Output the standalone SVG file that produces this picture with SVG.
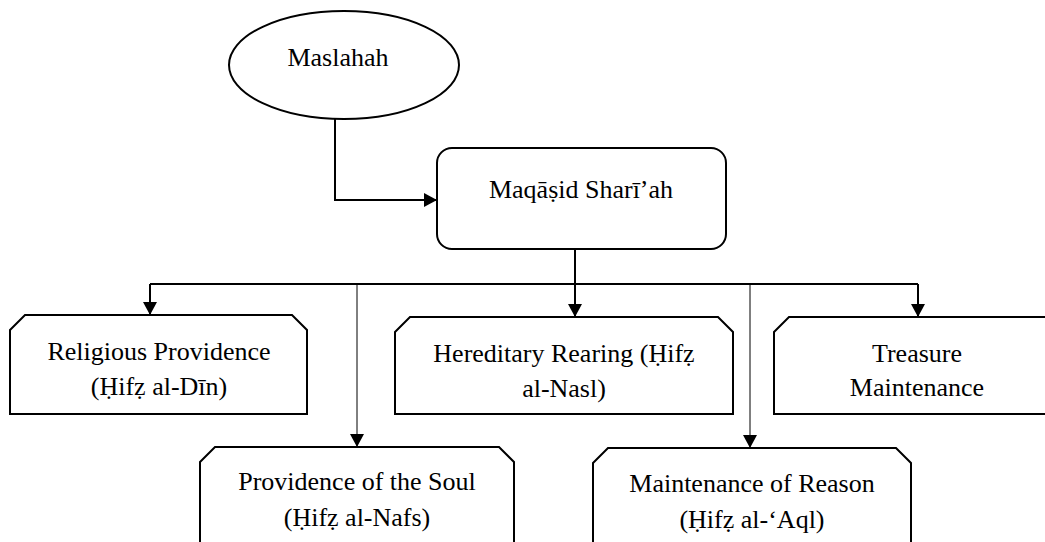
<svg xmlns="http://www.w3.org/2000/svg" width="1045" height="542" viewBox="0 0 1045 542">
<style>
.shape{fill:#fff;stroke:#000;stroke-width:2}
.txt{font-family:"Liberation Serif","Times New Roman",serif;font-size:26px;fill:#000;text-anchor:middle}
.conn{fill:none;stroke:#000;stroke-width:2}
.thin{fill:none;stroke:#000;stroke-width:1}
</style>
<defs>
<marker id="arr" markerUnits="userSpaceOnUse" markerWidth="14" markerHeight="14" viewBox="0 0 14 14" refX="13" refY="7" orient="auto">
<path d="M0,0 L13,7 L0,14 Z" fill="#000"/>
</marker>
</defs>
<rect width="1045" height="542" fill="#fff"/>
<g id="connectors">
<path class="conn" d="M335,119 V200 H437" marker-end="url(#arr)"/>
<path class="conn" d="M575,249 V284"/>
<path class="conn" d="M150,284 H918"/>
<path class="conn" d="M150,284 V315" marker-end="url(#arr)"/>
<path class="conn" d="M575,284 V317" marker-end="url(#arr)"/>
<path class="conn" d="M918,284 V317" marker-end="url(#arr)"/>
<path class="thin" d="M357,284 V447" marker-end="url(#arr)"/>
<path class="thin" d="M750,284 V448" marker-end="url(#arr)"/>
</g>
<g id="maslahah">
<ellipse class="shape" cx="344" cy="65" rx="115" ry="54"/>
<text class="txt" x="338" y="66">Maslahah</text>
</g>
<g id="maqasid">
<rect class="shape" x="437" y="148" width="289" height="101" rx="15" ry="15"/>
<text class="txt" x="581" y="198">Maqāṣid Sharī’ah</text>
</g>
<g id="religious">
<path class="shape" d="M10,330 L25,315 L292,315 L307,330 L307,414 L10,414 Z"/>
<text class="txt" x="159" y="360">Religious Providence</text>
<text class="txt" x="159" y="395">(Ḥifẓ al-Dīn)</text>
</g>
<g id="hereditary">
<path class="shape" d="M395,332 L410,317 L718,317 L733,332 L733,414 L395,414 Z"/>
<text class="txt" x="564" y="362">Hereditary Rearing (Ḥifẓ</text>
<text class="txt" x="564" y="397">al-Nasl)</text>
</g>
<g id="treasure">
<path class="shape" d="M774,332 L789,317 L1047,317 L1062,332 L1062,414 L774,414 Z"/>
<text class="txt" x="917" y="362">Treasure</text>
<text class="txt" x="917" y="396">Maintenance</text>
</g>
<g id="soul">
<path class="shape" d="M200,462 L215,447 L499,447 L514,462 L514,560 L200,560 Z"/>
<text class="txt" x="357" y="490">Providence of the Soul</text>
<text class="txt" x="357" y="526">(Ḥifẓ al-Nafs)</text>
</g>
<g id="reason">
<path class="shape" d="M593,463 L608,448 L896,448 L911,463 L911,560 L593,560 Z"/>
<text class="txt" x="752" y="492">Maintenance of Reason</text>
<text class="txt" x="752" y="528">(Ḥifẓ al-‘Aql)</text>
</g>
</svg>
